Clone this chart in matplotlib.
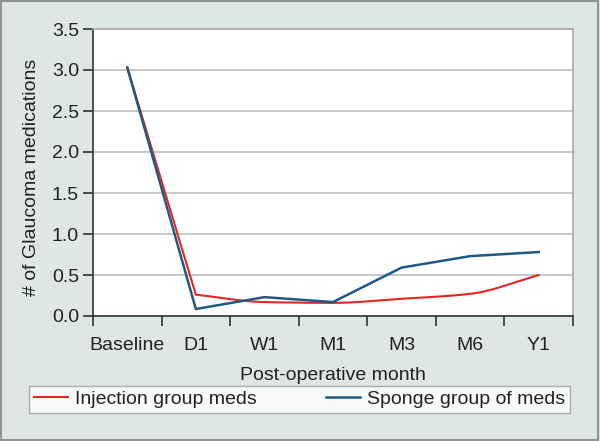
import numpy as np
import matplotlib
matplotlib.use("Agg")
import matplotlib.pyplot as plt
from matplotlib.patches import Rectangle

categories = ["Baseline", "D1", "W1", "M1", "M3", "M6", "Y1"]
injection = [3.03, 0.26, 0.17, 0.16, 0.21, 0.27, 0.50]
sponge = [3.03, 0.085, 0.23, 0.17, 0.59, 0.73, 0.78]
yticks = [0, 0.5, 1.0, 1.5, 2.0, 2.5, 3.0, 3.5]

plt.rcParams['font.family'] = ['Liberation Sans', 'DejaVu Sans']


def pchip(x, y, xs):
    x = np.asarray(x, float); y = np.asarray(y, float)
    n = len(x)
    h = np.diff(x); d = np.diff(y) / h
    m = np.zeros(n)
    m[0] = d[0]; m[-1] = d[-1]
    for k in range(1, n - 1):
        if d[k - 1] * d[k] <= 0:
            m[k] = 0
        else:
            w1 = 2 * h[k] + h[k - 1]; w2 = h[k] + 2 * h[k - 1]
            m[k] = (w1 + w2) / (w1 / d[k - 1] + w2 / d[k])
    out = np.empty_like(xs)
    for i, xv in enumerate(xs):
        k = min(max(np.searchsorted(x, xv, side='right') - 1, 0), n - 2)
        t = (xv - x[k]) / h[k]
        h00 = 2 * t**3 - 3 * t**2 + 1
        h10 = t**3 - 2 * t**2 + t
        h01 = -2 * t**3 + 3 * t**2
        h11 = t**3 - t**2
        out[i] = h00 * y[k] + h10 * h[k] * m[k] + h01 * y[k + 1] + h11 * h[k] * m[k + 1]
    return out


bg = '#dfe7e4'
fig = plt.figure(figsize=(6, 4.41), dpi=100, facecolor=bg)
fig.patches.append(Rectangle((0.002, 0.003), 0.995, 0.994, transform=fig.transFigure,
                             fill=False, edgecolor='#8e9492', linewidth=1.5))
ax = fig.add_axes([93 / 600, 1 - 316 / 441, 480 / 600, 287 / 441])
ax.set_facecolor('white')

x = np.arange(len(categories))
# red series: straight first segment, smoothed afterwards
xs = np.linspace(1, len(categories) - 1, 400)
red_x = np.concatenate([[x[0]], xs])
red_y = np.concatenate([[injection[0]], pchip(x[1:], injection[1:], xs)])
ax.plot(red_x, red_y, color='#e3261f', lw=1.5, label='Injection group meds')
ax.plot(x, sponge, color='#1f5a82', lw=1.8, label='Sponge group of meds')

ax.set_xlim(-0.5, 6.5)
ax.set_ylim(0, 3.5)
ax.set_yticks(yticks)
ax.set_yticklabels([f"{v:.1f}" for v in yticks], fontsize=14, color='#222222')
ax.yaxis.grid(True, color='#bdbdbd', lw=1.2)
ax.set_axisbelow(True)

ax.set_xticks(np.arange(-0.5, 7, 1))
ax.set_xticklabels([])
ax.set_xticks(x, minor=True)
ax.set_xticklabels(categories, minor=True, fontsize=14, color='#222222')
ax.tick_params(axis='x', which='major', length=7, width=1.2, color='#333333', direction='out')
ax.tick_params(axis='x', which='minor', length=0, pad=15)
ax.tick_params(axis='y', length=7, width=1.2, color='#333333', pad=3)

for s in ['left', 'bottom']:
    ax.spines[s].set_color('#333333'); ax.spines[s].set_linewidth(1.2)
for s in ['top', 'right']:
    ax.spines[s].set_color('#a8a8a8'); ax.spines[s].set_linewidth(1.2)

fig.text(333 / 600, 1 - 375 / 441, "Post-operative month", ha='center', va='center',
         fontsize=14, color='#222222')
fig.text(32 / 600, 1 - 177 / 441, "# of Glaucoma medications", ha='center', va='center',
         rotation=90, fontsize=14, color='#222222')

leg = fig.legend(loc='lower left', bbox_to_anchor=(29 / 600, 1 - 413 / 441, 541 / 600, 27 / 441),
                 ncol=2, mode='expand', borderaxespad=0, fontsize=14, frameon=True,
                 fancybox=False, handlelength=1.75, handletextpad=0.35, borderpad=0.25)
leg.get_frame().set_edgecolor('#9a9a9a')
leg.get_frame().set_facecolor('white')
leg.get_frame().set_linewidth(1.0)
for t in leg.get_texts():
    t.set_color('#222222')

fig.savefig('out.png', dpi=100, facecolor=bg)
